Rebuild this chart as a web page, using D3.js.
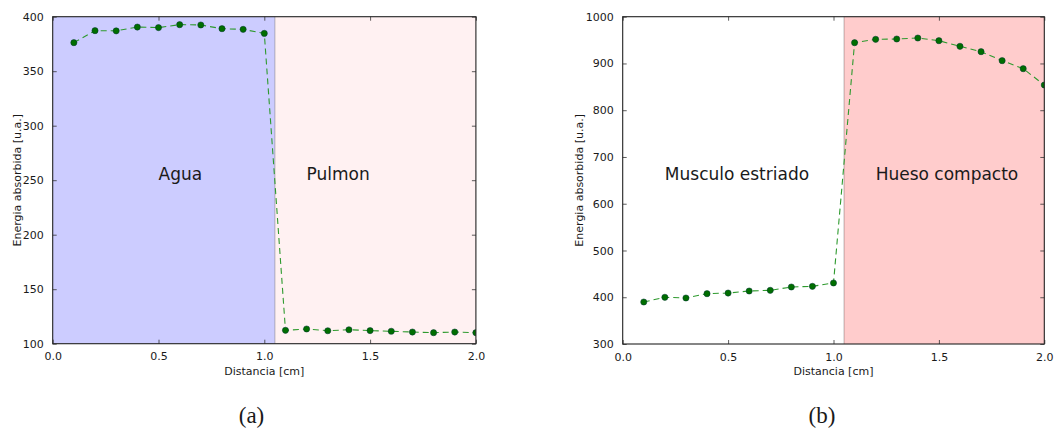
<!DOCTYPE html>
<html>
<head>
<meta charset="utf-8">
<script src="https://cdn.jsdelivr.net/npm/d3@7/dist/d3.min.js"></script>
<style>
  html, body { margin: 0; padding: 0; background: #fff; }
  svg { display: block; }
  text { font-family: "DejaVu Sans", sans-serif; fill: #1a1a1a; }
  .caption { font-family: "Liberation Serif", "DejaVu Serif", serif; }
</style>
</head>
<body>
<svg id="chart" width="1055" height="430"></svg>
<script>
// Sampling positions along the phantom (cm)
const distancia = [0.1, 0.2, 0.3, 0.4, 0.5, 0.6, 0.7, 0.8, 0.9, 1.0,
                   1.1, 1.2, 1.3, 1.4, 1.5, 1.6, 1.7, 1.8, 1.9, 2.0];

// (a) water / lung
const energiaAguaPulmon = [376.2, 387.2, 387.0, 390.5, 390.0, 392.7, 392.4, 389.0, 388.4, 384.7,
                           112.3, 113.5, 111.9, 112.8, 112.0, 111.4, 110.7, 110.1, 110.7, 110.1];

// (b) striated muscle / compact bone
const energiaMusculoHueso = [389.8, 399.9, 398.4, 407.6, 409.0, 413.3, 414.8, 421.9, 423.3, 430.5,
                             944.4, 951.6, 952.3, 954.4, 948.7, 936.7, 925.2, 906.0, 888.8, 853.9];

// Tissue interface
const interfaz = 1.05;

// Axis ticks
const xTicks = [0.0, 0.5, 1.0, 1.5, 2.0];
const yTicksA = [100, 150, 200, 250, 300, 350, 400];
const yTicksB = [300, 400, 500, 600, 700, 800, 900, 1000];

// Region labels: [text, x, y]
const regionesA = [["Agua", 0.5, 250], ["Pulmon", 1.2, 250]];
const regionesB = [["Musculo estriado", 0.2, 650], ["Hueso compacto", 1.2, 650]];

const svg = d3.select("#chart");

function panel(opts) {
  const { left, right, top, bottom, yDomain, yTicks, values, spans, labels, caption, captionX, id, yTitleOffset } = opts;
  const x = d3.scaleLinear().domain([0, 2]).range([left, right]);
  const y = d3.scaleLinear().domain(yDomain).range([bottom, top]);
  const g = svg.append("g");

  g.append("clipPath").attr("id", id).append("rect")
    .attr("x", left).attr("y", top).attr("width", right - left).attr("height", bottom - top);

  // shaded tissue regions
  spans.forEach(s => {
    g.append("rect")
      .attr("x", x(s[0])).attr("y", top)
      .attr("width", x(s[1]) - x(s[0])).attr("height", bottom - top)
      .attr("fill", s[2]);
  });
  g.append("line")
    .attr("x1", x(interfaz)).attr("x2", x(interfaz))
    .attr("y1", top).attr("y2", bottom)
    .attr("stroke", "#000").attr("stroke-opacity", 0.22).attr("stroke-width", 1.2);

  // region names
  labels.forEach(l => {
    g.append("text").attr("x", x(l[1])).attr("y", y(l[2]))
      .attr("font-size", 17).text(l[0]);
  });

  // data series
  const pts = distancia.map((d, i) => [d, values[i]]);
  const plot = g.append("g").attr("clip-path", `url(#${id})`);
  plot.append("path")
    .datum(pts)
    .attr("d", d3.line().x(d => x(d[0])).y(d => y(d[1])))
    .attr("fill", "none")
    .attr("stroke", "#2e9a2e")
    .attr("stroke-width", 1.1)
    .attr("stroke-dasharray", "6,4");
  plot.selectAll("circle").data(pts).join("circle")
    .attr("cx", d => x(d[0])).attr("cy", d => y(d[1]))
    .attr("r", 3.1)
    .attr("fill", "#006e00")
    .attr("stroke", "#033")
    .attr("stroke-width", 0.5);

  // axes (ticks inward on all four sides)
  const tickStyle = sel => {
    sel.select(".domain").remove();
    sel.selectAll(".tick line").attr("stroke", "#333").attr("stroke-width", 0.8);
    sel.selectAll(".tick text").attr("font-size", 11).attr("font-family", "DejaVu Sans, sans-serif").attr("fill", "#1a1a1a");
  };
  g.append("g").attr("transform", `translate(0,${bottom})`)
    .call(d3.axisBottom(x).tickValues(xTicks).tickFormat(d3.format(".1f")).tickSizeInner(-4).tickSizeOuter(0).tickPadding(9))
    .call(tickStyle);
  g.append("g").attr("transform", `translate(0,${top})`)
    .call(d3.axisTop(x).tickValues(xTicks).tickFormat("").tickSizeInner(-4).tickSizeOuter(0))
    .call(tickStyle);
  g.append("g").attr("transform", `translate(${left},0)`)
    .call(d3.axisLeft(y).tickValues(yTicks).tickFormat(d3.format("d")).tickSizeInner(-4).tickSizeOuter(0).tickPadding(9))
    .call(tickStyle);
  g.append("g").attr("transform", `translate(${right},0)`)
    .call(d3.axisRight(y).tickValues(yTicks).tickFormat("").tickSizeInner(-4).tickSizeOuter(0))
    .call(tickStyle);

  // frame
  g.append("rect")
    .attr("x", left).attr("y", top).attr("width", right - left).attr("height", bottom - top)
    .attr("fill", "none").attr("stroke", "#222").attr("stroke-width", 1.1);

  // axis titles
  g.append("text")
    .attr("x", (left + right) / 2).attr("y", bottom + 31)
    .attr("text-anchor", "middle").attr("font-size", 11)
    .text("Distancia [cm]");
  g.append("text")
    .attr("transform", `translate(${left - yTitleOffset},${(top + bottom) / 2}) rotate(-90)`)
    .attr("text-anchor", "middle").attr("font-size", 11)
    .text("Energia absorbida [u.a.]");

  // sub-figure caption
  svg.append("text").attr("class", "caption")
    .attr("x", captionX).attr("y", 423)
    .attr("text-anchor", "middle").attr("font-size", 23)
    .text(caption);
}

panel({
  id: "clipA",
  left: 52.7, right: 475.9, top: 16.7, bottom: 343.7,
  yDomain: [100, 400], yTicks: yTicksA,
  values: energiaAguaPulmon,
  spans: [[0, interfaz, "#ccccff"], [interfaz, 2, "#fff1f2"]],
  labels: regionesA,
  caption: "(a)", captionX: 251.5,
  yTitleOffset: 32
});

panel({
  id: "clipB",
  left: 622.7, right: 1044.3, top: 16.7, bottom: 344,
  yDomain: [300, 1000], yTicks: yTicksB,
  values: energiaMusculoHueso,
  spans: [[interfaz, 2, "#ffcccc"]],
  labels: regionesB,
  caption: "(b)", captionX: 822,
  yTitleOffset: 40
});
</script>
</body>
</html>
